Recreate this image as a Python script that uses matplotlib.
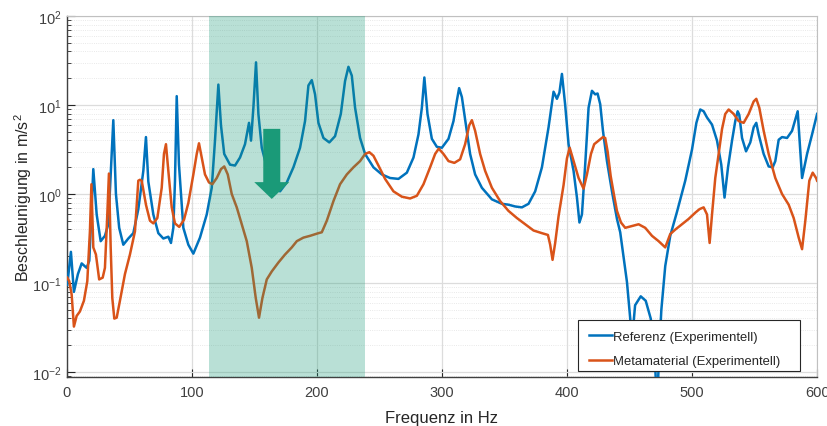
import matplotlib
matplotlib.use("Agg")
import matplotlib.pyplot as plt
import numpy as np
from matplotlib.patches import Rectangle
from matplotlib.ticker import LogLocator, MultipleLocator, NullFormatter

plt.rcParams["font.family"] = ["Liberation Sans", "DejaVu Sans"]
plt.rcParams["mathtext.fontset"] = "custom"
plt.rcParams["mathtext.rm"] = "Liberation Sans"

# values, stored as log10 of the acceleration in m/s^2
ref_freq = [
    0.5, 3.4, 5.8, 9, 12, 16, 18.1, 21.3, 24, 27.2, 30.6, 33.3, 35.2, 37.3, 39.4,
    42, 45.3, 49.3, 53.3, 57.3, 61.3, 63.4, 65.3, 69.3, 73.3, 77.3, 81.3, 83.4,
    85.3, 86.6, 88, 89.8, 93.3, 97.3, 101.3, 106.6, 112, 116, 118.6, 121.3, 123.4,
    126, 130.6, 134.6, 138.6, 142.6, 145.8, 147.4, 149.3, 151.4, 153.3, 156, 160,
    165.3, 170.6, 176, 181.3, 186.6, 190.6, 193.3, 196, 198.6, 201.3, 205.3, 210,
    214.6, 219.2, 222.6, 225.3, 228, 230.6, 234.6, 238.6, 245.3, 252, 258.6,
    265.3, 272, 277.3, 281.3, 284, 286, 288.5, 292, 296, 300, 305.3, 309.3, 312,
    313.8, 316, 319.2, 322.6, 326.6, 332, 340, 348, 353.3, 358.6, 364, 369.3,
    374.6, 380, 385.3, 389.3, 392, 394, 396, 398.6, 401.3, 405.3, 408, 410, 412,
    414.6, 417.3, 420, 422.6, 424.5, 426.6, 428.8, 432, 436, 440, 442.6, 448,
    450.6, 452, 454.5, 459, 463, 467, 470, 472, 474, 475.5, 478.6, 482.6, 488,
    494.6, 500, 503.5, 506.6, 509.3, 512, 516, 520, 523.4, 526, 528.8, 532,
    534.6, 536.5, 537.8, 540, 543.2, 546.6, 549.3, 551.4, 553.3, 557.3, 561.3,
    564.5, 566.6, 569.3, 572, 576, 580, 584.5, 588, 592, 596, 600,
]
ref_log = [
    -1.02, -0.65, -1.10, -0.90, -0.78, -0.83, -0.75, 0.28, -0.23, -0.53, -0.47,
    -0.34, 0.22, 0.83, 0.00, -0.38, -0.57, -0.50, -0.44, -0.17, 0.26, 0.64, 0.14,
    -0.23, -0.44, -0.50, -0.48, -0.55, -0.38, 0.14, 1.10, 0.33, -0.38, -0.57,
    -0.67, -0.49, -0.23, 0.07, 0.60, 1.23, 0.77, 0.45, 0.33, 0.32, 0.41, 0.56,
    0.80, 0.60, 0.97, 1.48, 0.90, 0.52, 0.30, 0.09, 0.03, 0.13, 0.30, 0.52, 0.82,
    1.22, 1.28, 1.12, 0.80, 0.63, 0.58, 0.65, 0.90, 1.27, 1.43, 1.33, 0.97, 0.63,
    0.45, 0.30, 0.22, 0.18, 0.17, 0.24, 0.41, 0.67, 0.97, 1.31, 0.90, 0.62, 0.53,
    0.52, 0.62, 0.82, 1.05, 1.19, 1.09, 0.78, 0.45, 0.22, 0.07, -0.06, -0.11,
    -0.12, -0.14, -0.15, -0.11, 0.03, 0.30, 0.75, 1.15, 1.07, 1.14, 1.35, 1.00,
    0.56, 0.26, -0.04, -0.32, -0.23, 0.33, 0.97, 1.16, 1.12, 1.13, 1.01, 0.71,
    0.37, 0.03, -0.28, -0.43, -0.99, -1.40, -1.65, -1.25, -1.15, -1.20, -1.40,
    -1.75, -2.40, -1.70, -1.30, -0.81, -0.47, -0.20, 0.15, 0.50, 0.80, 0.95,
    0.93, 0.86, 0.78, 0.60, 0.33, -0.04, 0.30, 0.60, 0.82, 0.93, 0.89, 0.63,
    0.48, 0.58, 0.75, 0.80, 0.67, 0.45, 0.31, 0.30, 0.37, 0.61, 0.64, 0.63, 0.71,
    0.93, 0.18, 0.45, 0.67, 0.90,
]

meta_freq = [
    0.5, 2.1, 4, 5.8, 8, 10.6, 13.8, 16.5, 18.6, 19.8, 21.3, 23.4, 26, 28.8, 30.6,
    32.5, 33.8, 35.2, 36.5, 38.1, 40, 42.6, 46.6, 50.6, 54.6, 57.3, 58.6, 60,
    63.4, 66.6, 69.3, 72.5, 76, 77.8, 79.4, 81.3, 84, 86.6, 90, 93.8, 97.3, 101.3,
    104, 105.8, 108, 110.6, 113.8, 116.5, 120, 123.4, 126, 128.8, 132, 136, 140,
    144, 148, 151.2, 153.8, 156.5, 160, 164, 169.3, 174.6, 180, 184, 189.3, 194.6,
    201.3, 204, 208, 213.3, 218.6, 224, 229.3, 234.6, 238.6, 242, 245.3, 249.3,
    254.6, 261.3, 268, 274.6, 280, 285.3, 290.6, 294.6, 297.5, 301.3, 305.3, 310,
    314.6, 318.6, 321.8, 324, 326.6, 330.6, 334.6, 340, 346.6, 353.3, 360, 366.6,
    373.3, 380, 384.8, 386.6, 388.5, 390.6, 393.3, 397.3, 400, 402.2, 405.3,
    409.3, 413.3, 416, 419.2, 421.8, 425.3, 428.8, 430.6, 432.5, 435, 437.5, 440,
    443.2, 446.6, 452, 457.3, 462.6, 468, 473.3, 478.6, 482.6, 486.6, 492, 497.3,
    502.6, 506, 509.3, 512, 514.1, 516, 518.6, 521.3, 524, 526.6, 529.3, 533.3,
    537.3, 541.3, 545.3, 549.3, 551.4, 553.8, 557.3, 561.3, 566.6, 572, 577.3,
    581.3, 585.3, 588, 590.6, 593.8, 596.5, 599.2, 600,
]
meta_log = [
    -0.94, -0.98, -1.13, -1.49, -1.37, -1.32, -1.20, -0.98, -0.42, 0.11, -0.60,
    -0.68, -0.96, -0.94, -0.83, -0.23, 0.23, -0.60, -1.17, -1.40, -1.39, -1.20,
    -0.90, -0.68, -0.42, 0.15, 0.16, 0.15, -0.12, -0.30, -0.33, -0.27, 0.07, 0.45,
    0.56, 0.26, -0.15, -0.33, -0.37, -0.29, -0.10, 0.22, 0.45, 0.57, 0.41, 0.22,
    0.13, 0.11, 0.18, 0.28, 0.31, 0.22, 0.00, -0.15, -0.34, -0.53, -0.83, -1.17,
    -1.39, -1.17, -0.96, -0.87, -0.77, -0.68, -0.60, -0.53, -0.49, -0.47, -0.44,
    -0.43, -0.30, -0.08, 0.11, 0.22, 0.30, 0.37, 0.45, 0.47, 0.43, 0.32, 0.17,
    0.03, -0.03, -0.05, -0.02, 0.11, 0.30, 0.45, 0.51, 0.45, 0.37, 0.35, 0.39,
    0.56, 0.77, 0.83, 0.71, 0.45, 0.26, 0.07, -0.08, -0.19, -0.27, -0.34, -0.41,
    -0.44, -0.46, -0.57, -0.74, -0.55, -0.25, 0.10, 0.40, 0.52, 0.37, 0.18, 0.06,
    0.22, 0.45, 0.56, 0.60, 0.64, 0.63, 0.48, 0.20, 0.00, -0.19, -0.32, -0.38,
    -0.36, -0.34, -0.38, -0.47, -0.53, -0.60, -0.45, -0.40, -0.34, -0.28, -0.21,
    -0.17, -0.15, -0.23, -0.55, -0.23, 0.18, 0.45, 0.73, 0.90, 0.95, 0.90, 0.82,
    0.80, 0.90, 1.04, 1.07, 0.97, 0.71, 0.45, 0.18, 0.00, -0.12, -0.27, -0.49,
    -0.62, -0.30, 0.15, 0.24, 0.18, 0.15,
]

labels = ["Referenz (Experimentell)", "Metamaterial (Experimentell)"]
colors = ["#0072BD", "#D95319"]

# band-gap region and the arrow marking the drop
band_lo, band_hi = 113.8, 238.7
arrow_x, arrow_top, arrow_neck, arrow_tip = 164, 5.4, 1.36, 0.88
shaft_half, head_half = 6.8, 14.0

fig = plt.figure(figsize=(8.27, 4.27), dpi=100)
ax = fig.add_axes([0.0806, 0.115, 0.9074, 0.845])

ax.plot(ref_freq, 10 ** np.array(ref_log), color=colors[0], lw=1.8, label=labels[0], zorder=3)
ax.plot(meta_freq, 10 ** np.array(meta_log), color=colors[1], lw=1.8, label=labels[1], zorder=3)

ax.axvspan(band_lo, band_hi, color="#1a9a78", alpha=0.3, lw=0, zorder=4)

ax.fill(
    [arrow_x - shaft_half, arrow_x + shaft_half, arrow_x + shaft_half, arrow_x + head_half,
     arrow_x, arrow_x - head_half, arrow_x - shaft_half],
    [arrow_top, arrow_top, arrow_neck, arrow_neck, arrow_tip, arrow_neck, arrow_neck],
    color="#1a9a78", lw=0, zorder=5,
)

ax.set_yscale("log")
ax.set_xlim(0, 600)
ax.set_ylim(0.0088, 100)
ax.xaxis.set_major_locator(MultipleLocator(100))
ax.yaxis.set_major_locator(LogLocator(base=10, numticks=10))
ax.yaxis.set_minor_locator(LogLocator(base=10, subs=np.arange(2, 10), numticks=10))
ax.yaxis.set_minor_formatter(NullFormatter())

ax.grid(True, which="major", color="#dcdcdc", lw=0.9, zorder=0)
ax.grid(True, which="minor", axis="y", color="#e2e2e2", lw=0.6, ls=":", zorder=0)
ax.set_axisbelow(True)

ax.tick_params(which="both", direction="in", colors="#262626", labelcolor="#404040",
               labelsize=10.5, top=False, right=False)
ax.tick_params(which="major", length=6, width=0.8)
ax.tick_params(which="minor", length=3, width=0.6)
ax.tick_params(axis="x", pad=6)

for side in ["left", "bottom"]:
    ax.spines[side].set_color("#404040")
    ax.spines[side].set_linewidth(1.0)
for side in ["top", "right"]:
    ax.spines[side].set_color("#c0c0c0")
    ax.spines[side].set_linewidth(0.8)

ax.set_xlabel("Frequenz in Hz", fontsize=12, color="#262626", labelpad=8)
ax.set_ylabel("Beschleunigung in m/s$^2$", fontsize=11.5, color="#262626", labelpad=-1)

# MATLAB-style legend box: wider on the right than the entries need
ax.add_patch(Rectangle((0.6815, 0.0166), 0.2958, 0.1414, transform=ax.transAxes,
                       facecolor="white", edgecolor="#262626", lw=0.8, zorder=6))
leg = ax.legend(loc="center left", bbox_to_anchor=(0.696, 0.078), borderaxespad=0,
                borderpad=0, fontsize=9.4, frameon=False, handlelength=1.75,
                handletextpad=0.1, labelspacing=0.95)
for text in leg.get_texts():
    text.set_color("#262626")
leg.set_zorder(7)

fig.savefig("out.png", dpi=100)
